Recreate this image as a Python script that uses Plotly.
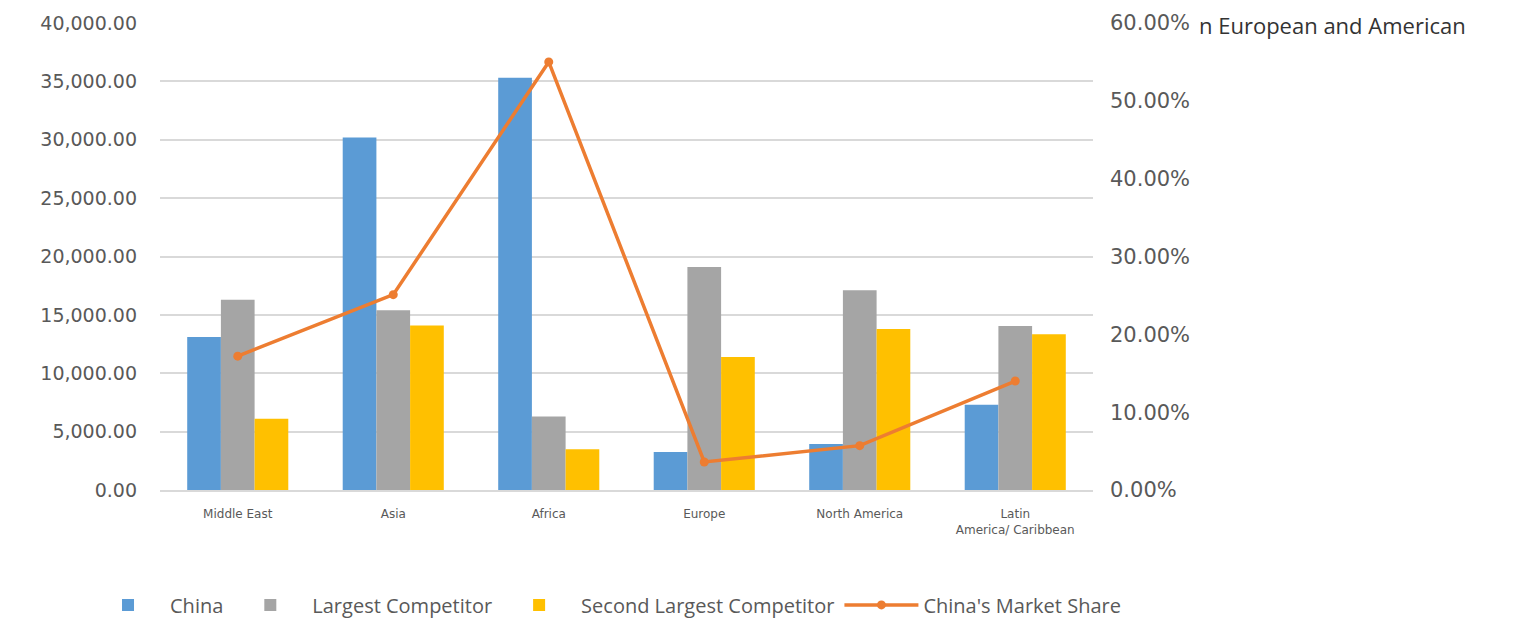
import plotly.graph_objects as go

categories = ["Middle East", "Asia", "Africa", "Europe", "North America", "Latin<br>America/ Caribbean"]
china = [13100, 30200, 35300, 3250, 3950, 7300]
largest_competitor = [16300, 15400, 6300, 19100, 17100, 14050]
second_largest = [6100, 14100, 3500, 11400, 13800, 13350]
china_share = [0.172, 0.251, 0.550, 0.036, 0.057, 0.140]

left_ticks = [0, 5000, 10000, 15000, 20000, 25000, 30000, 35000, 40000]
left_labels = ["0.00", "5,000.00", "10,000.00", "15,000.00", "20,000.00", "25,000.00", "30,000.00", "35,000.00", "40,000.00"]
right_ticks = [0, 0.1, 0.2, 0.3, 0.4, 0.5, 0.6]
right_labels = ["0.00%", "10.00%", "20.00%", "30.00%", "40.00%", "50.00%", "60.00%"]

TXT = "#595959"

fig = go.Figure()
fig.add_trace(go.Bar(x=categories, y=china, name="China", marker_color="#5B9BD5", marker_line_width=0))
fig.add_trace(go.Bar(x=categories, y=largest_competitor, name="Largest Competitor", marker_color="#A5A5A5", marker_line_width=0))
fig.add_trace(go.Bar(x=categories, y=second_largest, name="Second Largest Competitor", marker_color="#FFC000", marker_line_width=0))
fig.add_trace(go.Scatter(x=categories, y=china_share, name="China's Market Share", yaxis="y2",
                         mode="lines+markers", line=dict(color="#ED7D31", width=3.5),
                         marker=dict(color="#ED7D31", size=9, symbol="circle")))

fig.update_layout(
    width=1515, height=618,
    margin=dict(l=160, r=422, t=23, b=128, autoexpand=False),
    paper_bgcolor="white", plot_bgcolor="white",
    barmode="group", bargap=0.35, bargroupgap=0,
    showlegend=True,
    legend=dict(orientation="h", x=-0.0793, xanchor="left", y=-0.246, yanchor="middle",
                font=dict(family="Open Sans", size=20, color=TXT), itemwidth=74,
                traceorder="normal", bgcolor="rgba(0,0,0,0)"),
    xaxis=dict(tickfont=dict(family="DejaVu Sans", size=12, color=TXT), showgrid=False,
               showline=True, linecolor="#D9D9D9", linewidth=1.5, ticks="", ticklabelstandoff=12),
    yaxis=dict(range=[0, 40000], tickvals=left_ticks, ticktext=left_labels,
               tickfont=dict(family="DejaVu Sans", size=19, color=TXT),
               showgrid=True, gridcolor="#D9D9D9", gridwidth=1.5, zeroline=False,
               ticks="", ticklabelstandoff=22),
    yaxis2=dict(range=[0, 0.6], tickvals=right_ticks, ticktext=right_labels, overlaying="y", side="right",
                tickfont=dict(family="DejaVu Sans", size=21, color=TXT), showgrid=False, zeroline=False,
                ticks="", ticklabelstandoff=16),
    annotations=[dict(text="n European and American", xref="paper", yref="paper", x=1.111, y=0.996,
                      xanchor="left", yanchor="middle", showarrow=False,
                      font=dict(family="Open Sans", size=22, color="#333333"))],
)

fig.write_html("out.html")
